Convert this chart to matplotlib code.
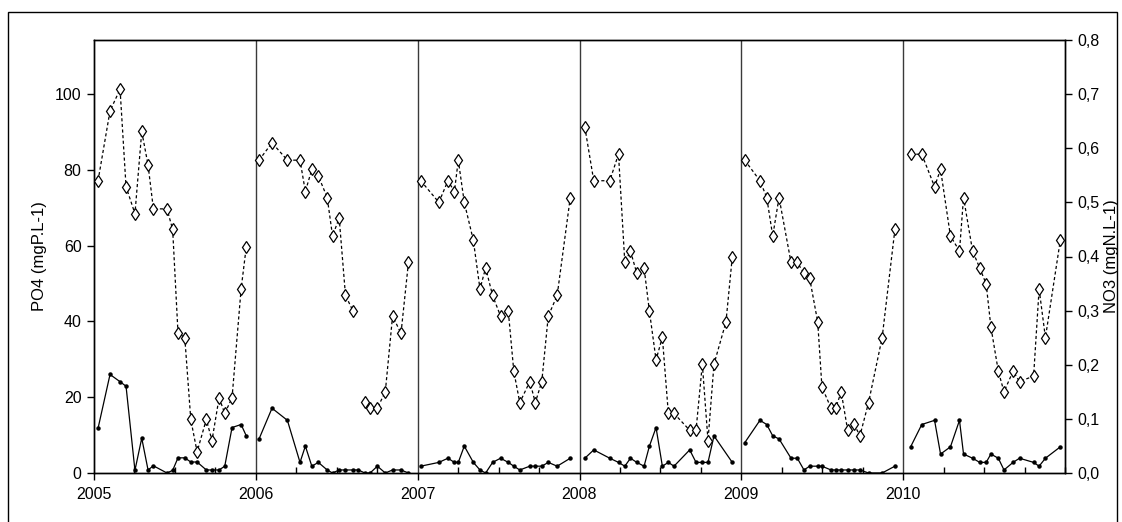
import numpy as np
import matplotlib
matplotlib.use('Agg')
import matplotlib.pyplot as plt
from matplotlib.ticker import FuncFormatter, MultipleLocator
from matplotlib.patches import Rectangle

plt.rcParams['font.family'] = ['Liberation Sans Narrow', 'Liberation Sans', 'DejaVu Sans']

# sampling dates (decimal years), one row per year
dates = [
    2005.025, 2005.099, 2005.161, 2005.198, 2005.253, 2005.295, 2005.334, 2005.367, 2005.451, 2005.486,
    2005.519, 2005.561, 2005.598, 2005.637, 2005.694, 2005.729, 2005.773, 2005.808, 2005.853, 2005.909, 2005.941,
    2006.020, 2006.100, 2006.195, 2006.273, 2006.306, 2006.346, 2006.386, 2006.441, 2006.474, 2006.515,
    2006.554, 2006.601, 2006.634, 2006.673, 2006.706, 2006.751, 2006.800, 2006.845, 2006.897, 2006.943,
    2007.019, 2007.131, 2007.187, 2007.227, 2007.251, 2007.288, 2007.344, 2007.385, 2007.420, 2007.463,
    2007.512, 2007.560, 2007.594, 2007.631, 2007.693, 2007.727, 2007.767, 2007.807, 2007.862, 2007.943,
    2008.033, 2008.088, 2008.187, 2008.241, 2008.280, 2008.315, 2008.354, 2008.399, 2008.432, 2008.473,
    2008.512, 2008.549, 2008.584, 2008.681, 2008.720, 2008.759, 2008.794, 2008.831, 2008.905, 2008.944,
    2009.021, 2009.115, 2009.157, 2009.194, 2009.233, 2009.307, 2009.346, 2009.387, 2009.422, 2009.472,
    2009.498, 2009.554, 2009.583, 2009.617, 2009.657, 2009.696, 2009.733, 2009.786, 2009.870, 2009.949,
    2010.046, 2010.115, 2010.194, 2010.231, 2010.292, 2010.348, 2010.373, 2010.429, 2010.473, 2010.513,
    2010.542, 2010.588, 2010.623, 2010.679, 2010.719, 2010.806, 2010.840, 2010.879, 2010.971,
]

# NO3 (mgN.L-1), dashed line with diamonds, right axis; nan = missing sample
no3 = [
    0.540, 0.669, 0.709, 0.529, 0.479, 0.631, 0.569, 0.488, 0.488, 0.450,
    0.259, 0.250, 0.099, 0.039, 0.099, 0.060, 0.139, 0.110, 0.139, 0.340, 0.418,
    0.578, 0.610, 0.578, 0.578, 0.520, 0.561, 0.549, 0.509, 0.438, 0.471,
    0.328, 0.299, np.nan, 0.131, 0.120, 0.120, 0.150, 0.290, 0.258, 0.389,
    0.540, 0.500, 0.540, 0.520, 0.578, 0.500, 0.430, 0.340, 0.379, 0.328,
    0.290, 0.299, 0.188, 0.130, 0.169, 0.130, 0.169, 0.290, 0.328, 0.509,
    0.639, 0.540, 0.540, 0.589, 0.389, 0.410, 0.369, 0.379, 0.299, 0.209,
    0.251, 0.110, 0.110, 0.079, 0.079, 0.201, 0.060, 0.201, 0.279, 0.399,
    0.578, 0.540, 0.509, 0.438, 0.509, 0.389, 0.389, 0.369, 0.360, 0.279,
    0.159, 0.120, 0.120, 0.150, 0.079, 0.090, 0.069, 0.130, 0.250, 0.450,
    0.589, 0.589, 0.529, 0.561, 0.438, 0.410, 0.509, 0.410, 0.379, 0.349,
    0.270, 0.188, 0.150, 0.188, 0.169, 0.179, 0.340, 0.250, 0.430,
]

# PO4 (mgP.L-1), solid line with dots, left axis; nan = missing sample
po4 = [
    11.8, 26.0, 24.1, 22.9, 0.7, 9.2, 0.8, 1.9, 0.0, 0.7,
    4.0, 4.0, 2.9, 2.9, 0.8, 0.8, 0.8, 1.8, 12.0, 12.8, 9.8,
    9.0, 17.1, 13.9, 2.8, 7.1, 1.8, 2.8, 0.8, 0.0, 0.8,
    0.8, 0.8, 0.8, 0.0, 0.0, 1.8, 0.0, 0.8, 0.8, 0.0,
    1.8, 2.8, 3.9, 2.8, 2.8, 7.1, 2.8, 0.8, 0.0, 2.8,
    3.9, 2.8, 1.8, 0.8, 1.8, 1.8, 1.8, 2.8, 1.8, 3.9,
    3.9, 6.1, 3.9, 2.8, 1.8, 3.9, 2.8, 1.8, 7.1, 12.0,
    1.8, 2.8, 1.8, 6.1, 2.8, 2.8, 2.8, 9.8, np.nan, 2.8,
    8.0, 13.9, 12.8, 9.8, 9.0, 3.9, 3.9, 0.8, 1.8, 1.8,
    1.8, 0.8, 0.8, 0.8, 0.8, 0.8, 0.8, 0.0, 0.0, 1.8,
    6.9, 12.8, 13.9, 5.0, 6.9, 13.9, 5.0, 3.9, 2.8, 2.8,
    5.0, 3.9, 0.8, 2.8, 3.9, 2.8, 1.8, 3.9, 6.9,
]

years = [2005, 2006, 2007, 2008, 2009, 2010]

dates = np.array(dates)
no3 = np.array(no3)
po4 = np.array(po4)

fig = plt.figure(figsize=(11.22, 5.22), dpi=100)
ax = fig.add_axes([94 / 1122, 49 / 522, 971 / 1122, 433 / 522])
ax2 = ax.twinx()

for yr in years:
    m = np.floor(dates) == yr
    # PO4: skipped samples are just connected over
    mp = m & ~np.isnan(po4)
    ax.plot(dates[mp], po4[mp], color='black', lw=0.9, marker='o', ms=2.2, zorder=3)
    # NO3: missing samples leave a gap
    ax2.plot(dates[m], no3[m], color='black', lw=0.9, ls=(0, (2.5, 2)),
             marker='d', ms=6.5, mfc='white', mec='black', mew=0.9, zorder=3)

for yr in years[1:]:
    ax.axvline(yr, color='#3a3a3a', lw=1, zorder=1)

ax.set_xlim(2005, 2011)
ax.set_ylim(0, 800 / 7)
ax2.set_ylim(0, 0.8)

ax.set_xticks(years)
ax.set_xticklabels([str(y) for y in years])
ax.xaxis.set_minor_locator(MultipleLocator(0.25))
ax.tick_params(axis='x', which='major', direction='out', length=5, width=1, labelsize=11.5, pad=5)
ax.tick_params(axis='x', which='minor', direction='in', length=4, width=1)

ax.set_yticks([0, 20, 40, 60, 80, 100])
ax.tick_params(axis='y', direction='out', length=5, width=1, labelsize=11.5, pad=4)

ax2.set_yticks(np.arange(0, 0.81, 0.1))
ax2.yaxis.set_major_formatter(FuncFormatter(lambda v, p: ('%.1f' % v).replace('.', ',')))
ax2.tick_params(axis='y', direction='out', length=5, width=1, labelsize=11.5, pad=4)

for a in (ax, ax2):
    for s in a.spines.values():
        s.set_linewidth(1)

ax.set_ylabel('PO4 (mgP.L-1)', fontsize=12, labelpad=6)
ax2.set_ylabel('NO3 (mgN.L-1)', fontsize=12, rotation=90, labelpad=3)

# chart border
fig.patches.append(Rectangle((8 / 1122, -0.05), 1109 / 1122, 1.05 - 12 / 522,
                             transform=fig.transFigure, fill=False, ec='black', lw=1))

fig.savefig('out.png', dpi=100)
